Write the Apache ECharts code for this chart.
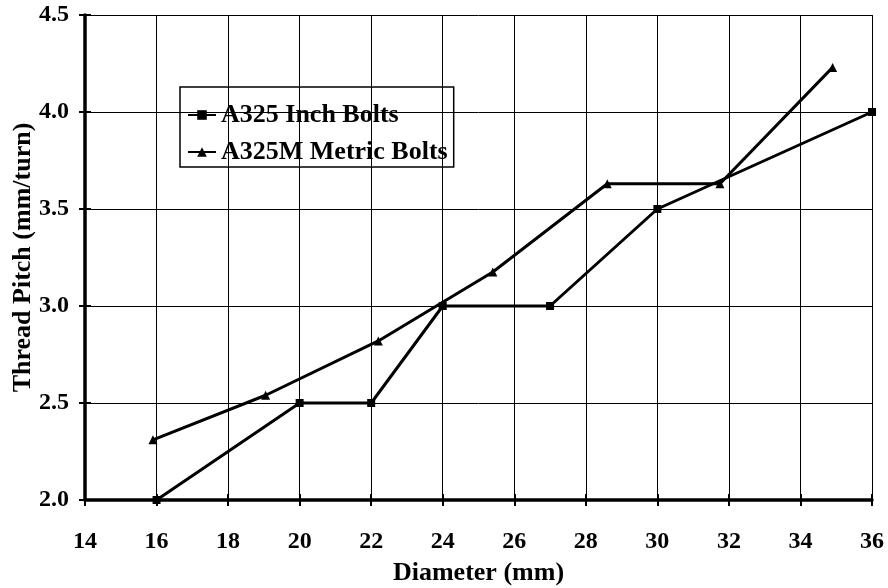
<!DOCTYPE html>
<html><head><meta charset="utf-8">
<script src="https://cdn.jsdelivr.net/npm/echarts@6/dist/echarts.min.js"></script>
<style>html,body{margin:0;padding:0;background:#fff}#c{width:888px;height:588px}</style>
</head><body><div id="c"></div>
<script>
const inchX = [16, 20, 22, 24, 27, 30, 36];
const inchY = [2.0, 2.5, 2.5, 3.0, 3.0, 3.5, 4.0];
const metricX = [15.9, 19.05, 22.2, 25.4, 28.6, 31.75, 34.9];
const metricY = [2.31, 2.54, 2.82, 3.175, 3.63, 3.63, 4.23];
const seriesNames = ['A325 Inch Bolts', 'A325M Metric Bolts'];
const xTitle = 'Diameter (mm)';
const yTitle = 'Thread Pitch (mm/turn)';

const font = 'Liberation Serif';
const chart = echarts.init(document.getElementById('c'));
const pair = (xs, ys) => xs.map((x, i) => [x, ys[i]]);
const baseX = {type: 'value', min: 14, max: 36, interval: 2, gridIndex: 0};
const baseY = {type: 'value', min: 2.0, max: 4.5, interval: 0.5, gridIndex: 0};
chart.setOption({
  animation: false,
  backgroundColor: '#fff',
  grid: {left: 85, right: 16, top: 15, bottom: 88, show: false, containLabel: false, outerBoundsMode: 'none'},
  legend: {
    orient: 'vertical', left: 180, top: 87,
    borderColor: '#000', borderWidth: 1.5, padding: [15, 6, 2, 7], itemGap: 11,
    itemWidth: 28, itemHeight: 12,
    textStyle: {fontFamily: font, fontWeight: 'bold', fontSize: 26, lineHeight: 26, color: '#000'},
    data: seriesNames
  },
  xAxis: [
    Object.assign({}, baseX, {
      name: xTitle, nameLocation: 'middle', nameGap: 60, nameMoveOverlap: false,
      nameTextStyle: {fontFamily: font, fontWeight: 'bold', fontSize: 26, color: '#000'},
      axisLine: {lineStyle: {color: '#000', width: 3.5}},
      axisTick: {show: true, length: 6, lineStyle: {color: '#000', width: 2}},
      axisLabel: {fontFamily: font, fontWeight: 'bold', fontSize: 24, color: '#000', margin: 30},
      splitLine: {show: true, lineStyle: {color: '#000', width: 1}}
    }),
    Object.assign({}, baseX, {
      position: 'bottom',
      axisLine: {show: false},
      axisTick: {show: true, inside: true, length: 6, lineStyle: {color: '#000', width: 2}},
      axisLabel: {show: false}, splitLine: {show: false}
    })
  ],
  yAxis: [
    Object.assign({}, baseY, {
      name: yTitle, nameLocation: 'middle', nameGap: 49, nameMoveOverlap: false,
      nameTextStyle: {fontFamily: font, fontWeight: 'bold', fontSize: 26, color: '#000'},
      axisLine: {show: true, lineStyle: {color: '#000', width: 3.5}},
      axisTick: {show: true, length: 6, lineStyle: {color: '#000', width: 2}},
      axisLabel: {fontFamily: font, fontWeight: 'bold', fontSize: 24, color: '#000', margin: 16,
        formatter: v => v.toFixed(1)},
      splitLine: {show: true, lineStyle: {color: '#000', width: 1}}
    }),
    Object.assign({}, baseY, {
      position: 'left',
      axisLine: {show: false},
      axisTick: {show: true, inside: true, length: 6, lineStyle: {color: '#000', width: 2}},
      axisLabel: {show: false}, splitLine: {show: false}
    })
  ],
  series: [
    {name: seriesNames[0], type: 'line', data: pair(inchX, inchY),
     symbol: 'rect', symbolSize: 8, color: '#000',
     lineStyle: {color: '#000', width: 3}, itemStyle: {color: '#000'}},
    {name: seriesNames[1], type: 'line', data: pair(metricX, metricY),
     symbol: 'triangle', symbolSize: 9, color: '#000',
     lineStyle: {color: '#000', width: 3}, itemStyle: {color: '#000'}}
  ]
});
</script></body></html>
